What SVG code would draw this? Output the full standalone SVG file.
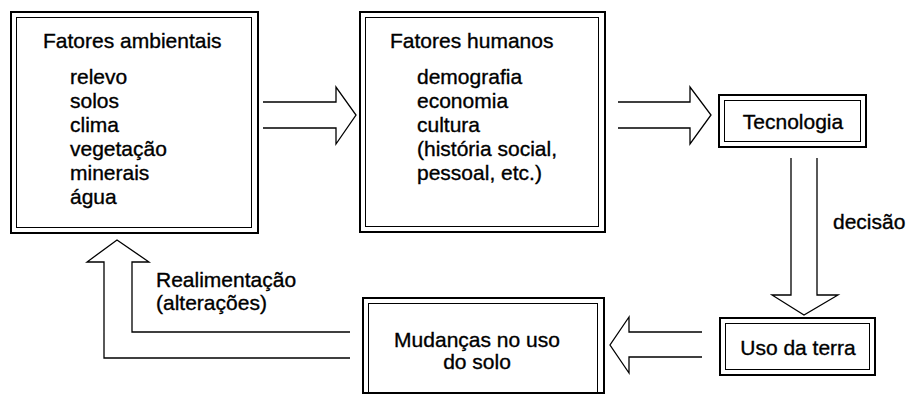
<svg xmlns="http://www.w3.org/2000/svg" width="917" height="394" viewBox="0 0 917 394">
<style>
  .outer { fill: none; stroke: #000; stroke-width: 2; }
  .inner { fill: none; stroke: #000; stroke-width: 1; }
  .arrow { fill: none; stroke: #000; stroke-width: 1.3; stroke-linejoin: miter; }
  text { font-family: "Liberation Sans", Arial, sans-serif; font-size: 21px; fill: #000; stroke: #000; stroke-width: 0.35; }
  .mid { text-anchor: middle; }
</style>
<rect width="917" height="394" fill="#fff"/>

<g id="fatores-ambientais">
  <rect class="outer" x="11" y="12" width="247" height="221"/>
  <rect class="inner" x="16.5" y="17.5" width="235" height="210"/>
  <text x="43" y="48">Fatores ambientais</text>
  <text x="70" y="84">relevo</text>
  <text x="70" y="108">solos</text>
  <text x="70" y="132">clima</text>
  <text x="70" y="156">vegetação</text>
  <text x="70" y="180">minerais</text>
  <text x="70" y="204">água</text>
</g>

<g id="fatores-humanos">
  <rect class="outer" x="360" y="12" width="245" height="220"/>
  <rect class="inner" x="365.5" y="17.5" width="233" height="209"/>
  <text x="390" y="48">Fatores humanos</text>
  <text x="417" y="84">demografia</text>
  <text x="417" y="108">economia</text>
  <text x="417" y="132">cultura</text>
  <text x="417" y="156">(história social,</text>
  <text x="417" y="180">pessoal, etc.)</text>
</g>

<g id="tecnologia">
  <rect class="outer" x="719" y="95" width="147" height="52"/>
  <rect class="inner" x="724.5" y="100.5" width="136" height="41"/>
  <text class="mid" x="793" y="129">Tecnologia</text>
</g>

<g id="uso-da-terra">
  <rect class="outer" x="720" y="318" width="155" height="57"/>
  <rect class="inner" x="725.5" y="323.5" width="144" height="46"/>
  <text class="mid" x="798" y="355">Uso da terra</text>
</g>

<g id="mudancas">
  <rect class="outer" x="363" y="298" width="241" height="95"/>
  <rect class="inner" x="368.5" y="303.5" width="229" height="95"/>
  <text class="mid" x="477" y="347">Mudanças no uso</text>
  <text class="mid" x="477" y="369">do solo</text>
</g>

<g id="connectors">
  <path class="arrow" d="M263,102 H336 V87 L356,115 L336,144 V128 H263"/>
  <path class="arrow" d="M618,102 H690 V87 L711,115 L690,144 V128 H618"/>
  <path class="arrow" d="M791,158 V295 H772 L804,315 L838,295 H817 V158"/>
  <path class="arrow" d="M702,332 H629 V317 L610,345 L629,373 V357 H702"/>
  <path class="arrow" d="M350,358 H104 V262 H87 L117,240 L149,262 H132 V332 H350"/>
  <text x="833" y="229">decisão</text>
  <text x="156" y="287">Realimentação</text>
  <text x="156" y="310">(alterações)</text>
</g>
</svg>
